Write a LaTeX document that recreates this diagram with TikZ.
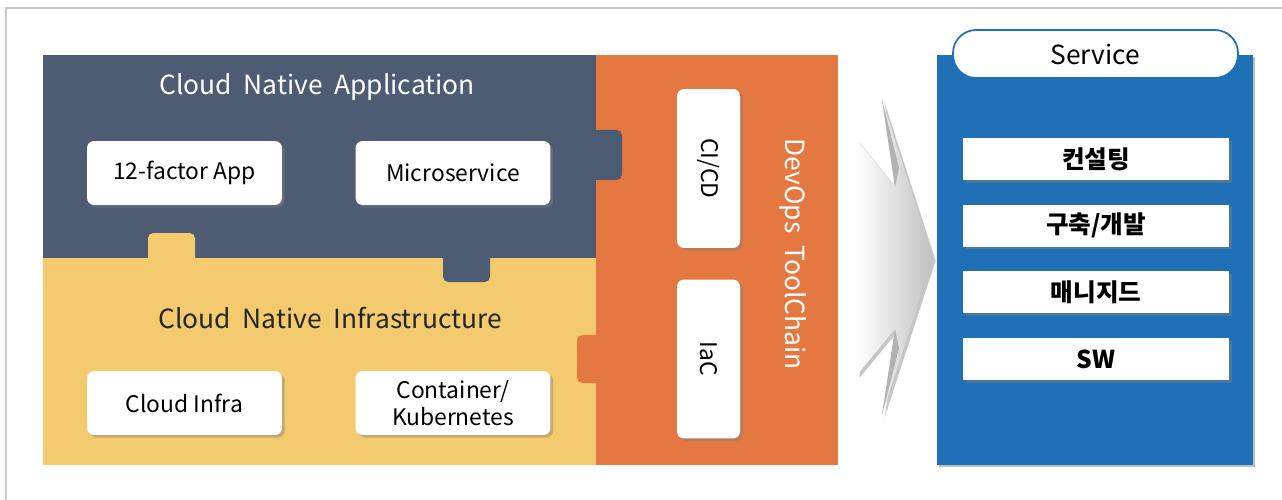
\documentclass[tikz,border=0pt]{standalone}
\usepackage{fontspec}
\setmainfont{Noto Sans CJK KR}
\usetikzlibrary{positioning,shadows,calc}

\definecolor{appnavy}{HTML}{4D5B73}
\definecolor{infrayellow}{HTML}{F3CB6E}
\definecolor{devorange}{HTML}{E57840}
\definecolor{svcblue}{HTML}{1F70B6}
\definecolor{framegray}{HTML}{C8C8C8}

\begin{document}
\begin{tikzpicture}[
    x=0.02cm, y=-0.02cm,
    shade/.style={drop shadow={shadow xshift=1.5pt, shadow yshift=-1.5pt, opacity=0.45}},
    box/.style={rectangle, rounded corners=4pt, fill=white, minimum width=3.9cm, minimum height=1.28cm, align=center, font=\fontsize{13}{15.5}\selectfont, shade},
    toolbox/.style={box, minimum width=1.26cm, minimum height=3.18cm},
    item/.style={rectangle, fill=white, minimum width=5.32cm, minimum height=0.84cm, font=\fontsize{14}{16}\selectfont\bfseries, shade},
    title/.style={font=\fontsize{15}{18}\selectfont}
  ]
    \useasboundingbox (0,0) rectangle (1282,500);
    \draw[framegray, line width=1.2pt] (6,500) -- (6,8) -- (1282,8);

    % Panels and puzzle tabs
    \fill[appnavy] (43,55) rectangle (596,258);
    \fill[infrayellow] (43,258) rectangle (596,465);
    \fill[devorange] (596,55) rectangle (838,465);
    \fill[infrayellow, rounded corners=3pt] (148,233) rectangle (195,268);
    \fill[appnavy, rounded corners=3pt] (443,248) rectangle (490,282);
    \fill[appnavy, rounded corners=3pt] (586,130) rectangle (622,180);
    \fill[devorange, rounded corners=3pt] (577,335) rectangle (606,383);

    % Left side
    \node[title, text=white] (apptitle) at (317,87) {Cloud\ \ Native\ \ Application};
    \node[box] (factor) at (184.5,173) {12-factor App};
    \node[box] (micro) at (453,173) {Microservice};
    \node[title, text=black!85] (infratitle) at (330,318) {Cloud\ \ Native\ \ Infrastructure};
    \node[box] (cloudinfra) at (184.5,403) {Cloud Infra};
    \node[box] (container) at (453,403) {Container/\\Kubernetes};

    % DevOps toolchain
    \node[toolbox] (cicd) at (708.5,168.5) {\rotatebox{-90}{CI/CD}};
    \node[toolbox] (iac) at (708.5,359) {\rotatebox{-90}{IaC}};
    \node[title, text=white, rotate=-90] (devops) at (793,254) {DevOps\ \ ToolChain};

    % Arrow
    \shade[left color=white, right color=black!25]
      (857,140) -- (895,187) -- (882,100) -- (933,258) -- (882,415) -- (895,329) -- (857,375) -- cycle;
    \fill[black!30] (882,100) -- (895,187) -- (899,168) -- cycle;
    \fill[black!30] (882,415) -- (895,329) -- (899,348) -- cycle;

    % Service
    \fill[svcblue, drop shadow={shadow xshift=1pt, shadow yshift=-1pt, opacity=0.5}] (937,55) rectangle (1253,465);
    \node[draw=svcblue, line width=1pt, fill=white, rounded corners=0.46cm, minimum width=5.7cm, minimum height=0.96cm, title] (service) at (1095.5,54) {Service};
    \node[item] (consult) at (1096,159) {컨설팅};
    \node[item, below=0.48cm of consult] (build) {구축/개발};
    \node[item, below=0.48cm of build] (managed) {매니지드};
    \node[item, below=0.48cm of managed] (sw) {SW};
  \end{tikzpicture}
\end{document}
